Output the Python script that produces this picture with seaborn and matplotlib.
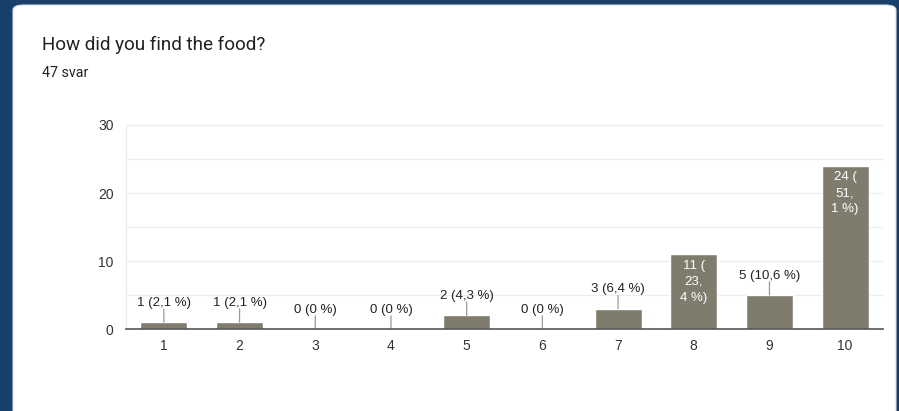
import matplotlib
matplotlib.use("Agg")
import matplotlib.pyplot as plt
import seaborn as sns
import pandas as pd
from matplotlib.patches import FancyBboxPatch

categories = ["1", "2", "3", "4", "5", "6", "7", "8", "9", "10"]
counts = [1, 1, 0, 0, 2, 0, 3, 11, 5, 24]
bar_labels = ["1 (2,1 %)", "1 (2,1 %)", "0 (0 %)", "0 (0 %)", "2 (4,3 %)",
              "0 (0 %)", "3 (6,4 %)", "11 (\n23,\n4 %)", "5 (10,6 %)", "24 (\n51,\n1 %)"]
inside = [False, False, False, False, False, False, False, True, False, True]
y_ticks = [0, 10, 20, 30]
title = "How did you find the food?"
subtitle = "47 svar"

sns.set_theme(style="white")
plt.rcParams['font.family'] = ['Liberation Sans', 'DejaVu Sans']

W, H = 899, 411
fig = plt.figure(figsize=(W / 100, H / 100), dpi=100)
fig.patch.set_facecolor("#19406b")

# card
card = FancyBboxPatch((13 / W, -20 / H), (896 - 13) / W, (H - 5 + 20) / H,
                      boxstyle="round,pad=0,rounding_size=0.012",
                      transform=fig.transFigure, facecolor="white",
                      edgecolor="#dadce0", linewidth=0.8, zorder=-10)
fig.patches.append(card)

fig.text(42 / W, 1 - 45 / H, title, fontsize=13.6, color="#202124", va="center", ha="left",
         family=['Roboto', 'DejaVu Sans'])
fig.text(42 / W, 1 - 73 / H, subtitle, fontsize=10.3, color="#202124", va="center", ha="left",
         family=['Roboto', 'DejaVu Sans'])

left, right, top, bottom = 126, 883, 125, 329
ax = fig.add_axes([left / W, 1 - bottom / H, (right - left) / W, (bottom - top) / H])
ax.set_facecolor("none")
ax.set_zorder(2)

df = pd.DataFrame({"cat": categories, "count": counts})
bar_color = "#7f7c6d"
sns.barplot(data=df, x="cat", y="count", order=categories, color=bar_color,
            saturation=1, width=0.62, ax=ax, zorder=3)

ax.set_ylim(0, 30)
ax.set_xlim(-0.5, len(categories) - 0.5)
ax.set_yticks(y_ticks)
for g in [5, 10, 15, 20, 25, 30]:
    ax.axhline(g, color="#ececec", linewidth=0.9, zorder=1)
ax.set_xlabel("")
ax.set_ylabel("")
for s in ["top", "right"]:
    ax.spines[s].set_visible(False)
ax.spines["left"].set_color("#ececec")
ax.spines["left"].set_linewidth(0.9)
ax.spines["bottom"].set_color("#555555")
ax.spines["bottom"].set_linewidth(1.2)
ax.spines["bottom"].set_zorder(4)
ax.tick_params(axis="both", length=0, labelsize=10, labelcolor="#333333")
ax.tick_params(axis="y", pad=9)
ax.tick_params(axis="x", pad=7)

for i, (c, lab, ins) in enumerate(zip(counts, bar_labels, inside)):
    if ins:
        ax.annotate(lab, xy=(i, c), xytext=(0, -4), textcoords="offset points",
                    ha="center", va="top", fontsize=9.5, color="white",
                    linespacing=1.45, zorder=5)
    else:
        ax.annotate(lab, xy=(i, c), xytext=(0, 14), textcoords="offset points",
                    ha="center", va="center", fontsize=9.5, color="#222222",
                    zorder=5, annotation_clip=False)
        ax.annotate("", xy=(i, c), xytext=(0, 9.5), textcoords="offset points",
                    arrowprops=dict(arrowstyle="-", color="#999999", lw=0.9,
                                    shrinkA=0, shrinkB=0), zorder=4)

fig.savefig("out.png", dpi=100, facecolor=fig.get_facecolor())
